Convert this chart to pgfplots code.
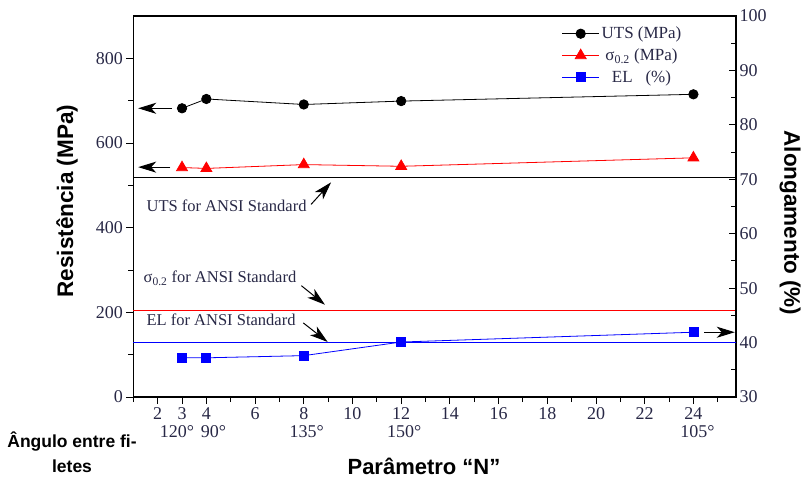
\documentclass[border=0pt]{standalone}
\usepackage{fontspec}
\setmainfont{Liberation Serif}
\newfontfamily\lsans{Liberation Sans}
\usepackage{pgfplots}
\pgfplotsset{compat=1.18}
\usetikzlibrary{arrows.meta}

\definecolor{tickc}{RGB}{40,40,70}

\pgfplotsset{
  common/.style={
    scale only axis, width=602.7pt, height=381pt,
    xmin=1, xmax=25.75,
    clip=false,
    /pgf/number format/assume math mode=true,
    tick label style={font=\fontsize{18}{20}\selectfont, text=tickc},
    major tick length=7pt, minor tick length=5pt,
    tick style={black, line width=1pt},
    minor tick style={black, line width=1pt},
  },
}
\tikzset{arr/.style={-{Stealth[length=18pt,width=11pt,inset=5pt]}, line width=1pt, black}}
\newcommand{\annfont}{\fontsize{16.5}{19}\selectfont}

\begin{document}
\begin{tikzpicture}
\begin{axis}[
  common,
  ymin=0, ymax=900,
  xtick={2,3,4,6,8,10,12,14,16,18,20,22,24},
  minor xtick={1,5,7,9,11,13,15,17,19,21,23,25},
  ytick={0,200,400,600,800},
  minor ytick={100,300,500,700},
  xtick pos=left, ytick pos=left,
  tick align=outside,
  axis line style={line width=1.2pt},
]
% UTS (MPa)
\addplot[black, line width=0.8pt, mark=*, mark size=4.7pt] coordinates {
  (3,682) (4,704) (8,691) (12,699) (24,715)};
% sigma 0.2 (MPa)
\addplot[red, line width=0.8pt, mark=triangle*, mark size=6.3pt] coordinates {
  (3,542) (4,540) (8,549) (12,545) (24,565)};
% ANSI standard lines
\addplot[black, line width=1pt] coordinates {(1,519) (25.75,519)};
\addplot[red, line width=1pt] coordinates {(1,204) (25.75,204)};

\node[anchor=west, font=\annfont, text=tickc] at (axis cs:1.40,451) {UTS for ANSI Standard};
\node[anchor=west, font=\annfont, text=tickc] at (axis cs:1.28,281) {σ\textsubscript{0.2} for ANSI Standard};
\node[anchor=west, font=\annfont, text=tickc] at (axis cs:1.40,182) {EL for ANSI Standard};

\draw[arr] (axis cs:2.59,682) -- (axis cs:1.20,682);
\draw[arr] (axis cs:2.52,543) -- (axis cs:1.20,543);
\draw[arr] (axis cs:8.30,455) -- (axis cs:9.12,507);
\draw[arr] (axis cs:7.90,263) -- (axis cs:8.87,218);
\draw[arr] (axis cs:7.98,175) -- (axis cs:8.98,130);

% angle labels under N
\node[font=\fontsize{18}{20}\selectfont, text=tickc] at (axis cs:3,0) [xshift=-5pt, yshift=-35pt] {120°};
\node[font=\fontsize{18}{20}\selectfont, text=tickc] at (axis cs:4,0) [xshift=7pt, yshift=-35pt] {90°};
\node[font=\fontsize{18}{20}\selectfont, text=tickc] at (axis cs:8,0) [xshift=3pt, yshift=-35pt] {135°};
\node[font=\fontsize{18}{20}\selectfont, text=tickc] at (axis cs:12,0) [xshift=3pt, yshift=-35pt] {150°};
\node[font=\fontsize{18}{20}\selectfont, text=tickc] at (axis cs:24,0) [xshift=4pt, yshift=-35pt] {105°};

\node[rotate=90, font=\lsans\bfseries\fontsize{22.5}{26}\selectfont] at (rel axis cs:-0.110,0.514) {Resistência (MPa)};
\node[align=center, font=\lsans\bfseries\fontsize{17.5}{25}\selectfont] at (rel axis cs:-0.1017,-0.144) {Ângulo entre fi-\\letes};
\node[anchor=base, font=\lsans\bfseries\fontsize{22}{26}\selectfont] at (rel axis cs:0.4823,-0.2021) {Parâmetro “N”};

\coordinate (bbl) at (rel axis cs:-0.2212,-0.2100);
\coordinate (btr) at (rel axis cs:1.1128,1.0420);
\end{axis}

\begin{axis}[
  common,
  ymin=30, ymax=100,
  axis x line=none, axis y line*=right,
  ytick={30,40,50,60,70,80,90,100},
  minor ytick={35,45,55,65,75,85,95},
  tick align=inside,
  axis line style={line width=1.8pt},
  legend style={at={(0.918,0.982)}, anchor=north east, draw=none, fill=none,
    font=\fontsize{17}{20}\selectfont, text=tickc, row sep=4.5pt},
  legend cell align=center,
  legend image code/.code={\draw[mark repeat=2, mark phase=2] plot coordinates {(0pt,0pt) (18.5pt,0pt) (37pt,0pt)};},
]
\addlegendimage{black, line width=0.8pt, mark=*, mark size=4.7pt}
\addlegendentry{UTS (MPa)}
\addlegendimage{red, line width=0.8pt, mark=triangle*, mark size=6.3pt}
\addlegendentry{σ\textsubscript{0.2} (MPa)}
% EL (%)
\addplot[blue, line width=0.8pt, mark=square*, mark size=4.5pt] coordinates {
  (3,37.2) (4,37.2) (8,37.6) (12,40.1) (24,41.9)};
\addlegendentry{EL\ \ \ (\%)}
\addplot[blue, line width=1pt, forget plot] coordinates {(1,40) (25.75,40)};

\draw[arr] (axis cs:24.45,41.9) -- (axis cs:25.70,41.9);

\node[rotate=-90, font=\lsans\bfseries\fontsize{22.5}{26}\selectfont] at (rel axis cs:1.0896,0.4567) {Alongamento (\%)};
\end{axis}

\pgfresetboundingbox
\path[use as bounding box] (bbl) rectangle (btr);
\end{tikzpicture}
\end{document}
